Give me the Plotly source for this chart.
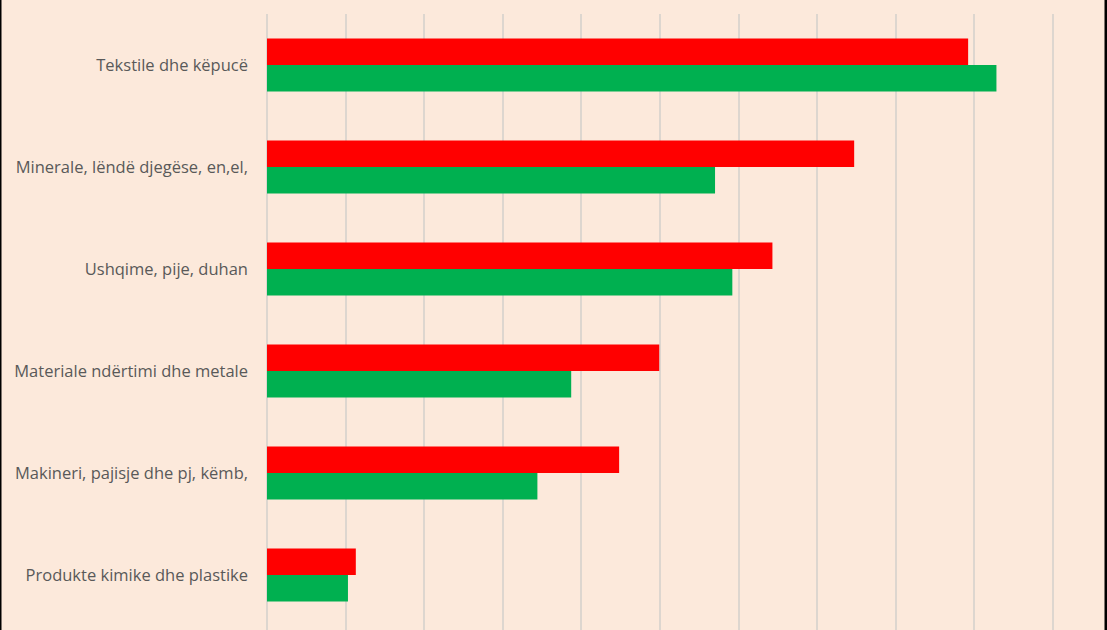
import plotly.graph_objects as go

categories = ["Tekstile dhe këpucë", "Minerale, lëndë djegëse, en,el,", "Ushqime, pije, duhan",
              "Materiale ndërtimi dhe metale", "Makineri, pajisje dhe pj, këmb,",
              "Produkte kimike dhe plastike"]
red_values = [8.92, 7.47, 6.43, 4.99, 4.48, 1.13]
green_values = [9.28, 5.70, 5.92, 3.87, 3.44, 1.03]

W, H = 1107, 630
L, R, T, B = 267, 52, 14, 0

fig = go.Figure()
fig.add_trace(go.Bar(y=categories, x=red_values, orientation="h", marker=dict(color="#FF0000", line=dict(width=0)), name="A"))
fig.add_trace(go.Bar(y=categories, x=green_values, orientation="h", marker=dict(color="#00B050", line=dict(width=0)), name="B"))

pw = W - L - R
fig.update_layout(
    width=W, height=H,
    margin=dict(l=L, r=R, t=T, b=B, pad=0),
    paper_bgcolor="#FCE9DB", plot_bgcolor="#FCE9DB",
    barmode="group", bargap=0.48, bargroupgap=0,
    showlegend=False,
    font=dict(family="Open Sans, sans-serif", size=16.5, color="#595959"),
    xaxis=dict(range=[0, 10.025], dtick=1, showgrid=True, gridcolor="#DDD6CF", gridwidth=2,
               zeroline=True, zerolinecolor="#DDD6CF", zerolinewidth=2,
               showticklabels=False, ticks="", showline=False, fixedrange=True),
    yaxis=dict(type="category", categoryorder="array", categoryarray=categories,
               range=[5.54, -0.5], showgrid=False, zeroline=False, ticks="",
               ticklabelstandoff=18, showline=False, fixedrange=True),
    shapes=[
        dict(type="rect", xref="paper", yref="paper", x0=-L / pw, x1=(-L + 1.5) / pw, y0=0, y1=1.1,
             fillcolor="black", line=dict(width=0), layer="above"),
        dict(type="rect", xref="paper", yref="paper", x0=(W - L - 2.5) / pw, x1=(W - L + 2) / pw, y0=0, y1=1.1,
             fillcolor="black", line=dict(width=0), layer="above"),
    ],
)
fig.write_html("out.html")
